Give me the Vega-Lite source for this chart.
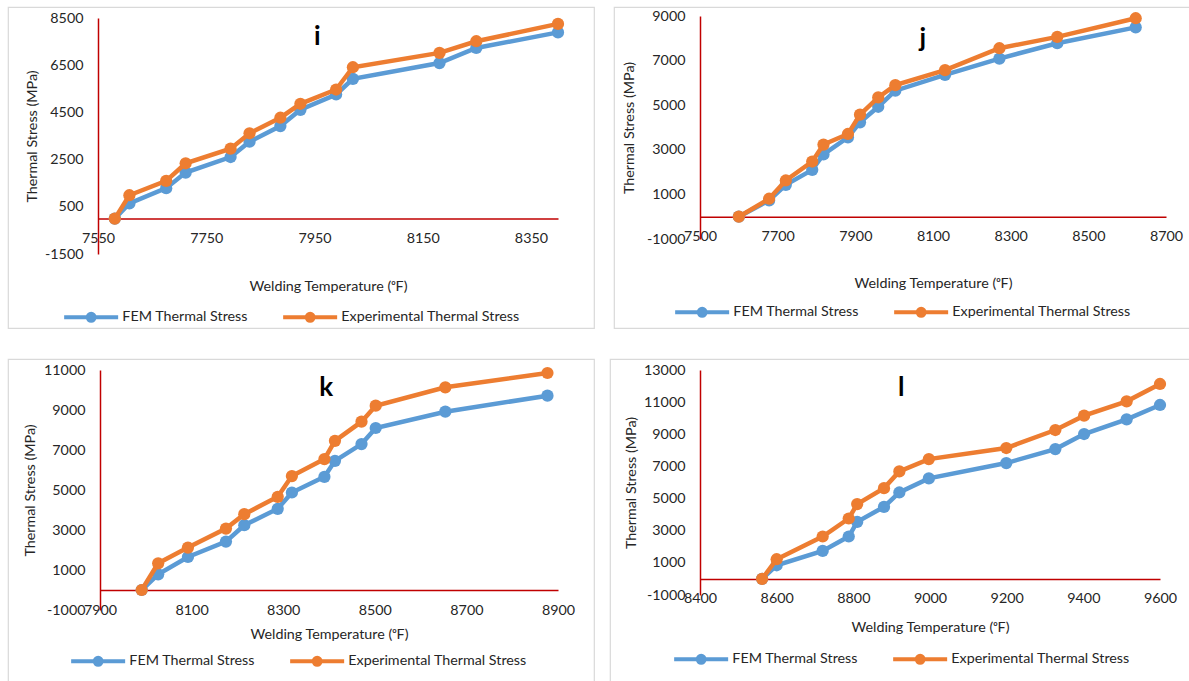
{
  "$schema": "https://vega.github.io/schema/vega-lite/v6.json",
  "padding": {"left": 7, "top": 6, "right": 0, "bottom": 0},
  "background": "white",
  "spacing": 28,
  "config": {
    "font": "Lato",
    "view": {"stroke": "#D9D9D9", "strokeWidth": 1.2},
    "axis": {
      "labelFont": "Lato", "labelFontSize": 14.3, "labelColor": "#262626",
      "titleFont": "Lato", "titleFontSize": 14.3, "titleFontWeight": "normal", "titleColor": "#262626",
      "grid": false, "ticks": false, "domainColor": "#C00000", "domainWidth": 1.5,
      "labelFlush": false, "labelOverlap": false, "labelAngle": 0
    },
    "legend": {
      "labelFont": "Lato", "labelFontSize": 14.3, "labelColor": "#262626", "labelLimit": 400,
      "symbolSize": 100, "symbolStrokeWidth": 4, "labelOffset": 24, "columnPadding": 27, "padding": 0,
      "symbolType": "M-5.4,0L5.4,0M0.7,0C0.7,0.3866,0.3866,0.7,0,0.7C-0.3866,0.7,-0.7,0.3866,-0.7,0C-0.7,-0.3866,-0.3866,-0.7,0,-0.7C0.3866,-0.7,0.7,-0.3866,0.7,0Z"
    }
  },
  "datasets": {
    "i": [
      {"series": "FEM Thermal Stress", "temp": 7581, "stress": 0},
      {"series": "FEM Thermal Stress", "temp": 7608, "stress": 640},
      {"series": "FEM Thermal Stress", "temp": 7676, "stress": 1290},
      {"series": "FEM Thermal Stress", "temp": 7712, "stress": 1950},
      {"series": "FEM Thermal Stress", "temp": 7795, "stress": 2610},
      {"series": "FEM Thermal Stress", "temp": 7830, "stress": 3260},
      {"series": "FEM Thermal Stress", "temp": 7887, "stress": 3920},
      {"series": "FEM Thermal Stress", "temp": 7924, "stress": 4610},
      {"series": "FEM Thermal Stress", "temp": 7990, "stress": 5260},
      {"series": "FEM Thermal Stress", "temp": 8021, "stress": 5920},
      {"series": "FEM Thermal Stress", "temp": 8181, "stress": 6590},
      {"series": "FEM Thermal Stress", "temp": 8249, "stress": 7230},
      {"series": "FEM Thermal Stress", "temp": 8400, "stress": 7890},
      {"series": "Experimental Thermal Stress", "temp": 7581, "stress": 0},
      {"series": "Experimental Thermal Stress", "temp": 7608, "stress": 990},
      {"series": "Experimental Thermal Stress", "temp": 7676, "stress": 1600},
      {"series": "Experimental Thermal Stress", "temp": 7712, "stress": 2345},
      {"series": "Experimental Thermal Stress", "temp": 7795, "stress": 2965},
      {"series": "Experimental Thermal Stress", "temp": 7830, "stress": 3615},
      {"series": "Experimental Thermal Stress", "temp": 7887, "stress": 4275},
      {"series": "Experimental Thermal Stress", "temp": 7924, "stress": 4865},
      {"series": "Experimental Thermal Stress", "temp": 7990, "stress": 5470},
      {"series": "Experimental Thermal Stress", "temp": 8021, "stress": 6415},
      {"series": "Experimental Thermal Stress", "temp": 8181, "stress": 7020},
      {"series": "Experimental Thermal Stress", "temp": 8249, "stress": 7515},
      {"series": "Experimental Thermal Stress", "temp": 8400, "stress": 8250}
    ],
    "j": [
      {"series": "FEM Thermal Stress", "temp": 7600, "stress": 0},
      {"series": "FEM Thermal Stress", "temp": 7678, "stress": 730},
      {"series": "FEM Thermal Stress", "temp": 7721, "stress": 1430},
      {"series": "FEM Thermal Stress", "temp": 7789, "stress": 2100},
      {"series": "FEM Thermal Stress", "temp": 7818, "stress": 2790},
      {"series": "FEM Thermal Stress", "temp": 7881, "stress": 3560},
      {"series": "FEM Thermal Stress", "temp": 7912, "stress": 4230},
      {"series": "FEM Thermal Stress", "temp": 7959, "stress": 4930},
      {"series": "FEM Thermal Stress", "temp": 8003, "stress": 5650},
      {"series": "FEM Thermal Stress", "temp": 8131, "stress": 6360},
      {"series": "FEM Thermal Stress", "temp": 8271, "stress": 7090},
      {"series": "FEM Thermal Stress", "temp": 8420, "stress": 7780},
      {"series": "FEM Thermal Stress", "temp": 8622, "stress": 8490},
      {"series": "Experimental Thermal Stress", "temp": 7600, "stress": 0},
      {"series": "Experimental Thermal Stress", "temp": 7678, "stress": 805},
      {"series": "Experimental Thermal Stress", "temp": 7721, "stress": 1625},
      {"series": "Experimental Thermal Stress", "temp": 7789, "stress": 2475},
      {"series": "Experimental Thermal Stress", "temp": 7818, "stress": 3235},
      {"series": "Experimental Thermal Stress", "temp": 7881, "stress": 3710},
      {"series": "Experimental Thermal Stress", "temp": 7912, "stress": 4575},
      {"series": "Experimental Thermal Stress", "temp": 7959, "stress": 5350},
      {"series": "Experimental Thermal Stress", "temp": 8003, "stress": 5900},
      {"series": "Experimental Thermal Stress", "temp": 8131, "stress": 6570},
      {"series": "Experimental Thermal Stress", "temp": 8271, "stress": 7555},
      {"series": "Experimental Thermal Stress", "temp": 8420, "stress": 8065},
      {"series": "Experimental Thermal Stress", "temp": 8622, "stress": 8900}
    ],
    "k": [
      {"series": "FEM Thermal Stress", "temp": 7991, "stress": 0},
      {"series": "FEM Thermal Stress", "temp": 8027, "stress": 785},
      {"series": "FEM Thermal Stress", "temp": 8092, "stress": 1650},
      {"series": "FEM Thermal Stress", "temp": 8175, "stress": 2420},
      {"series": "FEM Thermal Stress", "temp": 8215, "stress": 3240},
      {"series": "FEM Thermal Stress", "temp": 8288, "stress": 4060},
      {"series": "FEM Thermal Stress", "temp": 8319, "stress": 4875},
      {"series": "FEM Thermal Stress", "temp": 8390, "stress": 5660},
      {"series": "FEM Thermal Stress", "temp": 8413, "stress": 6460},
      {"series": "FEM Thermal Stress", "temp": 8471, "stress": 7295},
      {"series": "FEM Thermal Stress", "temp": 8502, "stress": 8100},
      {"series": "FEM Thermal Stress", "temp": 8654, "stress": 8915},
      {"series": "FEM Thermal Stress", "temp": 8877, "stress": 9715},
      {"series": "Experimental Thermal Stress", "temp": 7991, "stress": 0},
      {"series": "Experimental Thermal Stress", "temp": 8027, "stress": 1335},
      {"series": "Experimental Thermal Stress", "temp": 8092, "stress": 2120},
      {"series": "Experimental Thermal Stress", "temp": 8175, "stress": 3070},
      {"series": "Experimental Thermal Stress", "temp": 8215, "stress": 3790},
      {"series": "Experimental Thermal Stress", "temp": 8288, "stress": 4660},
      {"series": "Experimental Thermal Stress", "temp": 8319, "stress": 5695},
      {"series": "Experimental Thermal Stress", "temp": 8390, "stress": 6545},
      {"series": "Experimental Thermal Stress", "temp": 8413, "stress": 7460},
      {"series": "Experimental Thermal Stress", "temp": 8471, "stress": 8415},
      {"series": "Experimental Thermal Stress", "temp": 8502, "stress": 9215},
      {"series": "Experimental Thermal Stress", "temp": 8654, "stress": 10135},
      {"series": "Experimental Thermal Stress", "temp": 8877, "stress": 10850}
    ],
    "l": [
      {"series": "FEM Thermal Stress", "temp": 8562, "stress": 0},
      {"series": "FEM Thermal Stress", "temp": 8600, "stress": 850},
      {"series": "FEM Thermal Stress", "temp": 8720, "stress": 1745},
      {"series": "FEM Thermal Stress", "temp": 8788, "stress": 2640},
      {"series": "FEM Thermal Stress", "temp": 8810, "stress": 3550},
      {"series": "FEM Thermal Stress", "temp": 8880, "stress": 4485},
      {"series": "FEM Thermal Stress", "temp": 8920, "stress": 5380},
      {"series": "FEM Thermal Stress", "temp": 8997, "stress": 6255},
      {"series": "FEM Thermal Stress", "temp": 9199, "stress": 7210},
      {"series": "FEM Thermal Stress", "temp": 9327, "stress": 8080},
      {"series": "FEM Thermal Stress", "temp": 9402, "stress": 9015},
      {"series": "FEM Thermal Stress", "temp": 9513, "stress": 9930},
      {"series": "FEM Thermal Stress", "temp": 9600, "stress": 10825},
      {"series": "Experimental Thermal Stress", "temp": 8562, "stress": 0},
      {"series": "Experimental Thermal Stress", "temp": 8600, "stress": 1225},
      {"series": "Experimental Thermal Stress", "temp": 8720, "stress": 2640},
      {"series": "Experimental Thermal Stress", "temp": 8788, "stress": 3760},
      {"series": "Experimental Thermal Stress", "temp": 8810, "stress": 4655},
      {"series": "Experimental Thermal Stress", "temp": 8880, "stress": 5650},
      {"series": "Experimental Thermal Stress", "temp": 8920, "stress": 6690},
      {"series": "Experimental Thermal Stress", "temp": 8997, "stress": 7455},
      {"series": "Experimental Thermal Stress", "temp": 9199, "stress": 8145},
      {"series": "Experimental Thermal Stress", "temp": 9327, "stress": 9265},
      {"series": "Experimental Thermal Stress", "temp": 9402, "stress": 10160},
      {"series": "Experimental Thermal Stress", "temp": 9513, "stress": 11050},
      {"series": "Experimental Thermal Stress", "temp": 9600, "stress": 12130}
    ]
  },
  "resolve": {"scale": {"color": "independent", "x": "independent", "y": "independent"}, "legend": {"color": "independent"}},
  "vconcat": [
    {
      "spacing": 18,
      "resolve": {"scale": {"color": "independent", "x": "independent", "y": "independent"}, "legend": {"color": "independent"}},
      "hconcat": [
        {
          "width": 586, "height": 321,
          "layer": [
            {"data": {"name": "i"}, "transform": [{"filter": "datum.series === 'FEM Thermal Stress'"}], "mark": {"type": "line", "strokeWidth": 4.5, "point": {"filled": true, "size": 150}}},
            {"data": {"name": "i"}, "transform": [{"filter": "datum.series === 'Experimental Thermal Stress'"}], "mark": {"type": "line", "strokeWidth": 4.5, "point": {"filled": true, "size": 150}}},
            {"data": {"values": [{"label": "i", "temp": 7955, "stress": 7695}]},
              "mark": {"type": "text", "fontSize": 26, "fontWeight": "bold", "font": "Lato", "baseline": "middle", "align": "center", "color": "#000000"},
              "encoding": {"text": {"field": "label", "type": "nominal"}, "color": {"value": "#000000"}}}
          ],
          "encoding": {
            "x": {"field": "temp", "type": "quantitative", "title": "Welding Temperature (ᵒF)",
              "scale": {"domain": [7550, 8400], "range": [90, 550], "nice": false, "zero": false},
              "axis": {"offset": -109.4, "values": [7550, 7750, 7950, 8150, 8350], "labelPadding": 13, "titlePadding": 34, "format": "d"}},
            "y": {"field": "stress", "type": "quantitative", "title": "Thermal Stress (MPa)",
              "scale": {"domain": [-1500, 8500], "range": [247, 11], "nice": false, "zero": false},
              "axis": {"offset": -90, "values": [-1500, 500, 2500, 4500, 6500, 8500], "labelPadding": 15, "titlePadding": 5, "labelExpr": "datum.value + ''"}},
            "color": {"field": "series", "type": "nominal",
              "scale": {"domain": ["FEM Thermal Stress", "Experimental Thermal Stress"], "range": ["#5B9BD5", "#ED7D31"]},
              "legend": {"title": null, "orient": "none", "direction": "horizontal", "legendX": 76, "legendY": 303,
                "encode": {"symbols": {"update": {"fill": {"signal": "datum.value === 'FEM Thermal Stress' ? '#5B9BD5' : '#ED7D31'"}, "stroke": {"signal": "datum.value === 'FEM Thermal Stress' ? '#5B9BD5' : '#ED7D31'"}, "opacity": {"value": 1}}}}}}
          }
        },
        {
          "width": 590, "height": 321,
          "layer": [
            {"data": {"name": "j"}, "transform": [{"filter": "datum.series === 'FEM Thermal Stress'"}], "mark": {"type": "line", "strokeWidth": 4.5, "point": {"filled": true, "size": 150}}},
            {"data": {"name": "j"}, "transform": [{"filter": "datum.series === 'Experimental Thermal Stress'"}], "mark": {"type": "line", "strokeWidth": 4.5, "point": {"filled": true, "size": 150}}},
            {"data": {"values": [{"label": "j", "temp": 8074, "stress": 7969}]},
              "mark": {"type": "text", "fontSize": 26, "fontWeight": "bold", "font": "Lato", "baseline": "middle", "align": "center", "color": "#000000"},
              "encoding": {"text": {"field": "label", "type": "nominal"}, "color": {"value": "#000000"}}}
          ],
          "encoding": {
            "x": {"field": "temp", "type": "quantitative", "title": "Welding Temperature (ᵒF)",
              "scale": {"domain": [7500, 8700], "range": [86, 552], "nice": false, "zero": false},
              "axis": {"offset": -111.3, "values": [7500, 7700, 7900, 8100, 8300, 8500, 8700], "labelPadding": 13, "titlePadding": 32, "format": "d"}},
            "y": {"field": "stress", "type": "quantitative", "title": "Thermal Stress (MPa)",
              "scale": {"domain": [-1000, 9000], "range": [232, 9], "nice": false, "zero": false},
              "axis": {"offset": -86, "values": [-1000, 1000, 3000, 5000, 7000, 9000], "labelPadding": 15, "titlePadding": 10, "labelExpr": "datum.value + ''"}},
            "color": {"field": "series", "type": "nominal",
              "scale": {"domain": ["FEM Thermal Stress", "Experimental Thermal Stress"], "range": ["#5B9BD5", "#ED7D31"]},
              "legend": {"title": null, "orient": "none", "direction": "horizontal", "legendX": 81, "legendY": 298,
                "encode": {"symbols": {"update": {"fill": {"signal": "datum.value === 'FEM Thermal Stress' ? '#5B9BD5' : '#ED7D31'"}, "stroke": {"signal": "datum.value === 'FEM Thermal Stress' ? '#5B9BD5' : '#ED7D31'"}, "opacity": {"value": 1}}}}}}
          }
        }
      ]
    },
    {
      "spacing": 14,
      "resolve": {"scale": {"color": "independent", "x": "independent", "y": "independent"}, "legend": {"color": "independent"}},
      "hconcat": [
        {
          "width": 586, "height": 330,
          "layer": [
            {"data": {"name": "k"}, "transform": [{"filter": "datum.series === 'FEM Thermal Stress'"}], "mark": {"type": "line", "strokeWidth": 4.5, "point": {"filled": true, "size": 150}}},
            {"data": {"name": "k"}, "transform": [{"filter": "datum.series === 'Experimental Thermal Stress'"}], "mark": {"type": "line", "strokeWidth": 4.5, "point": {"filled": true, "size": 150}}},
            {"data": {"values": [{"label": "k", "temp": 8394, "stress": 10100}]},
              "mark": {"type": "text", "fontSize": 26, "fontWeight": "bold", "font": "Lato", "baseline": "middle", "align": "center", "color": "#000000"},
              "encoding": {"text": {"field": "label", "type": "nominal"}, "color": {"value": "#000000"}}}
          ],
          "encoding": {
            "x": {"field": "temp", "type": "quantitative", "title": "Welding Temperature (ᵒF)",
              "scale": {"domain": [7900, 8900], "range": [92, 550], "nice": false, "zero": false},
              "axis": {"offset": -99, "values": [7900, 8100, 8300, 8500, 8700, 8900], "labelPadding": 13, "titlePadding": 10, "format": "d"}},
            "y": {"field": "stress", "type": "quantitative", "title": "Thermal Stress (MPa)",
              "scale": {"domain": [-1000, 11000], "range": [251, 11], "nice": false, "zero": false},
              "axis": {"offset": -92, "values": [-1000, 1000, 3000, 5000, 7000, 9000, 11000], "labelPadding": 15, "titlePadding": 6, "labelExpr": "datum.value + ''"}},
            "color": {"field": "series", "type": "nominal",
              "scale": {"domain": ["FEM Thermal Stress", "Experimental Thermal Stress"], "range": ["#5B9BD5", "#ED7D31"]},
              "legend": {"title": null, "orient": "none", "direction": "horizontal", "legendX": 83, "legendY": 295,
                "encode": {"symbols": {"update": {"fill": {"signal": "datum.value === 'FEM Thermal Stress' ? '#5B9BD5' : '#ED7D31'"}, "stroke": {"signal": "datum.value === 'FEM Thermal Stress' ? '#5B9BD5' : '#ED7D31'"}, "opacity": {"value": 1}}}}}}
          }
        },
        {
          "width": 590, "height": 330,
          "layer": [
            {"data": {"name": "l"}, "transform": [{"filter": "datum.series === 'FEM Thermal Stress'"}], "mark": {"type": "line", "strokeWidth": 4.5, "point": {"filled": true, "size": 150}}},
            {"data": {"name": "l"}, "transform": [{"filter": "datum.series === 'Experimental Thermal Stress'"}], "mark": {"type": "line", "strokeWidth": 4.5, "point": {"filled": true, "size": 150}}},
            {"data": {"values": [{"label": "l", "temp": 8925, "stress": 11880}]},
              "mark": {"type": "text", "fontSize": 26, "fontWeight": "bold", "font": "Lato", "baseline": "middle", "align": "center", "color": "#000000"},
              "encoding": {"text": {"field": "label", "type": "nominal"}, "color": {"value": "#000000"}}}
          ],
          "encoding": {
            "x": {"field": "temp", "type": "quantitative", "title": "Welding Temperature (ᵒF)",
              "scale": {"domain": [8400, 9600], "range": [90, 550], "nice": false, "zero": false},
              "axis": {"offset": -110.1, "values": [8400, 8600, 8800, 9000, 9200, 9400, 9600], "labelPadding": 13, "titlePadding": 14, "format": "d"}},
            "y": {"field": "stress", "type": "quantitative", "title": "Thermal Stress (MPa)",
              "scale": {"domain": [-1000, 13000], "range": [236, 11], "nice": false, "zero": false},
              "axis": {"offset": -90, "values": [-1000, 1000, 3000, 5000, 7000, 9000, 11000, 13000], "labelPadding": 15, "titlePadding": 5, "labelExpr": "datum.value + ''"}},
            "color": {"field": "series", "type": "nominal",
              "scale": {"domain": ["FEM Thermal Stress", "Experimental Thermal Stress"], "range": ["#5B9BD5", "#ED7D31"]},
              "legend": {"title": null, "orient": "none", "direction": "horizontal", "legendX": 84, "legendY": 293,
                "encode": {"symbols": {"update": {"fill": {"signal": "datum.value === 'FEM Thermal Stress' ? '#5B9BD5' : '#ED7D31'"}, "stroke": {"signal": "datum.value === 'FEM Thermal Stress' ? '#5B9BD5' : '#ED7D31'"}, "opacity": {"value": 1}}}}}}
          }
        }
      ]
    }
  ]
}
